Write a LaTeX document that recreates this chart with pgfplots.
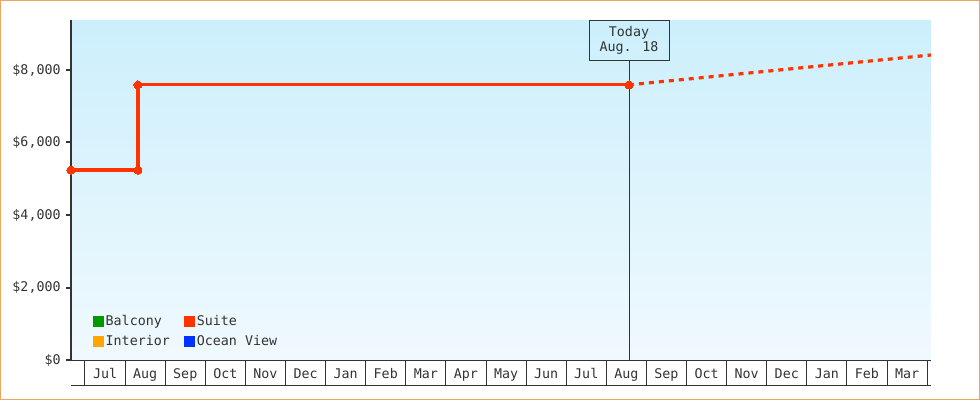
\documentclass[border=0pt]{standalone}
\usepackage{fontspec}
\setmainfont{DejaVu Sans Mono}
\usepackage{pgfplots}
\pgfplotsset{compat=1.18}

\definecolor{suite}{HTML}{FF3300}
\definecolor{balcony}{HTML}{009900}
\definecolor{interior}{HTML}{FFA500}
\definecolor{ocean}{HTML}{0033FF}
\definecolor{axisgray}{HTML}{333333}
\definecolor{bgtop}{HTML}{CCEFFC}
\definecolor{bgbot}{HTML}{F0F9FE}
\definecolor{frame}{HTML}{E8A862}

\begin{document}
\begin{tikzpicture}
\begin{axis}[
    scale only axis,
    width=645pt, height=255pt,
    xmin=-0.349, xmax=21.097,
    ymin=0, ymax=9379,
    clip=false,
    axis y line*=left,
    axis x line*=bottom,
    axis line style={-, draw=axisgray},
    y axis line style={line width=1.5pt},
    x axis line style={line width=0.75pt},
    axis background/.style={top color=bgtop, bottom color=bgbot},
    font=\fontsize{10}{12}\selectfont,
    ticklabel style={text=axisgray},
    ytick={0,2000,4000,6000,8000},
    yticklabels={{\$0},{\$2,000},{\$4,000},{\$6,000},{\$8,000}},
    ytick style={draw=axisgray, line width=1.5pt},
    ytick align=outside,
    y tick label style={xshift=-0.5pt},
    xtick={0.5,1.5,...,20.5},
    xticklabels={Jul,Aug,Sep,Oct,Nov,Dec,Jan,Feb,Mar,Apr,May,Jun,Jul,Aug,Sep,Oct,Nov,Dec,Jan,Feb,Mar},
    x tick label style={yshift=1pt},
    xtick align=outside,
    xtick style={draw=none},
    extra x ticks={0,1,...,21},
    extra x tick labels={},
    extra x tick style={xtick style={draw=axisgray, line width=0.75pt}, major tick length=18.75pt},
    major tick length=3.75pt,
    legend columns=2,
    legend cell align=left,
    legend style={draw=none, fill=none, at={(rel axis cs:0.025,0.03)}, anchor=south west,
        inner sep=0pt, row sep=3pt, font=\fontsize{10}{12}\selectfont,
        /tikz/every even column/.append style={column sep=9pt},
        nodes={inner sep=1.5pt, text=axisgray}},
]
  \addlegendimage{fill=balcony, draw=none, legend image code/.code={\fill (0pt,-4.1pt) rectangle (8.2pt,4.1pt);}}
  \addlegendentry{Balcony}
  \addlegendimage{fill=suite, draw=none, legend image code/.code={\fill (0pt,-4.1pt) rectangle (8.2pt,4.1pt);}}
  \addlegendentry{Suite}
  \addlegendimage{fill=interior, draw=none, legend image code/.code={\fill (0pt,-4.1pt) rectangle (8.2pt,4.1pt);}}
  \addlegendentry{Interior}
  \addlegendimage{fill=ocean, draw=none, legend image code/.code={\fill (0pt,-4.1pt) rectangle (8.2pt,4.1pt);}}
  \addlegendentry{Ocean View}

  % projection after today
  \addplot[forget plot, suite, line width=2.4pt, dash pattern=on 3.75pt off 3.75pt]
    coordinates {(13.566,7590) (21.097,8414)};

  % today marker
  \addplot[forget plot, axisgray, line width=0.75pt]
    coordinates {(13.566,0) (13.566,8276)};

  % suite price history
  \addplot[forget plot, suite, line width=2.4pt, mark=*, mark size=3pt,
      mark options={fill=suite, draw=suite, line width=0pt}]
    coordinates {(-0.349,5240) (1.32,5240) (1.32,7590) (13.566,7590)};

  \node[draw=axisgray, line width=0.75pt, anchor=north, align=center,
        minimum width=60pt, minimum height=30pt, inner sep=1pt,
        text=axisgray, font=\fontsize{10}{11.5}\selectfont]
    at (axis cs:13.566,9379) {Today\\Aug. 18};

  \draw[axisgray, line width=0.75pt] ([yshift=-18.75pt]rel axis cs:0,0) -- ([yshift=-18.75pt]rel axis cs:1,0);

  \draw[frame, line width=0.75pt]
    ([shift={(-52.875pt,-29.625pt)}]rel axis cs:0,0) rectangle ([shift={(36.375pt,14.625pt)}]rel axis cs:1,1);
\end{axis}
\end{tikzpicture}
\end{document}
